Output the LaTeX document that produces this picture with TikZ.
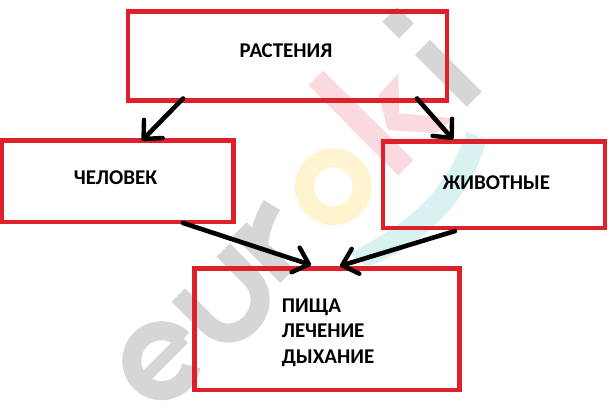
\documentclass[tikz,border=0pt]{standalone}
\usepackage{fontspec}
\setmainfont{Carlito}
\usetikzlibrary{arrows.meta}
\definecolor{boxred}{RGB}{221,32,42}
\definecolor{wgray}{RGB}{214,214,214}
\definecolor{wpink}{RGB}{250,218,222}
\definecolor{wyellow}{RGB}{255,243,208}
\definecolor{wcyan}{RGB}{216,241,241}
\tikzset{
 box/.style={draw=boxred,line width=4.4pt,inner sep=0pt,outer sep=0pt,anchor=north west},
 lbl/.style={font=\fontsize{21}{25.5}\selectfont\bfseries,inner sep=0pt},
 conn/.style={line width=4.6pt,line cap=round,-{Straight Barb[length=14pt,width=26pt,line width=4.4pt,round]}},
 wstroke/.style={draw=wgray,line width=19pt}
}
\begin{document}
\begin{tikzpicture}[x=1pt,y=-1pt]
\useasboundingbox (0,0) rectangle (608,411);
\fill[white] (0,0) rectangle (608,411);
% watermark: i
\fill[wgray] (382.3,21.7) -- (397.3,7.3) -- (414,23.3) -- (399,38.3) -- cycle;
\fill[wgray] (415,55) -- (430,40) -- (481.7,91.7) -- (466.7,106.7) -- cycle;
% watermark: k
\fill[wpink] (308.3,85) -- (323.3,70.7) -- (413.3,160) -- (398.3,175.7) -- cycle;
\fill[wpink] (378.3,95) -- (398.3,73.3) -- (399.3,113.3) -- (453.3,118.3) -- (436.7,133.3) -- (388,130) -- cycle;
% watermark: swoosh
\fill[wcyan] (466.7,131.7) .. controls (445,195) and (405,225) .. (350,253) -- (367,267) .. controls (425,245) and (470,200) .. (486.7,140) -- cycle;
% watermark: o
\draw[draw=wyellow,line width=19pt] (333.3,186.7) circle[radius=29pt];
% watermark: e
\begin{scope}[shift={(161.7,360.7)},y=1pt]
\draw[wstroke] (45:30pt) arc[start angle=45,end angle=350,radius=30pt];
\draw[draw=wgray,line width=12pt] (-20pt,-20pt) -- (22pt,22pt);
\end{scope}
% watermark: u
\draw[wstroke] (178.3,295) -- (206.7,323.3) .. controls (236.9,353.5) and (280,306.7) .. (250,276.7) -- (223.3,250);
% watermark: r
\draw[wstroke] (240,229) -- (287,276);
\draw[wstroke] (258,247) .. controls (260,230) and (265,216) .. (272,205);
% boxes
\node[box,minimum width=319pt,minimum height=88.8pt] (plants) at (128,11.7) {};
\node[box,minimum width=232pt,minimum height=81.5pt] (human) at (1.5,140.5) {};
\node[box,minimum width=222pt,minimum height=86.5pt] (animals) at (383,141.5) {};
\node[box,minimum width=265pt,minimum height=121.5pt] (food) at (194.5,268.5) {};
% labels
\node[lbl] (plantstext) at (286,51) {РАСТЕНИЯ};
\node[lbl] (humantext) at (115.5,178) {ЧЕЛОВЕК};
\node[lbl] (animalstext) at (496.5,183) {ЖИВОТНЫЕ};
\node[lbl,align=left,anchor=west] (foodtext) at (281.7,332.5) {ПИЩА\\ЛЕЧЕНИЕ\\ДЫХАНИЕ};
% arrows
\draw[conn] ([xshift=55pt,yshift=2pt]plants.south west) -- ([xshift=140.5pt]human.north west);
\draw[conn] ([xshift=289pt,yshift=2pt]plants.south west) -- ([xshift=70pt,yshift=2pt]animals.north west);
\draw[conn] ([xshift=181.5pt,yshift=-1pt]human.south west) -- ([xshift=116.5pt,yshift=3.5pt]food.north west);
\draw[conn] ([xshift=72pt,yshift=-3pt]animals.south west) -- ([xshift=145.5pt,yshift=2.5pt]food.north west);
\end{tikzpicture}
\end{document}
